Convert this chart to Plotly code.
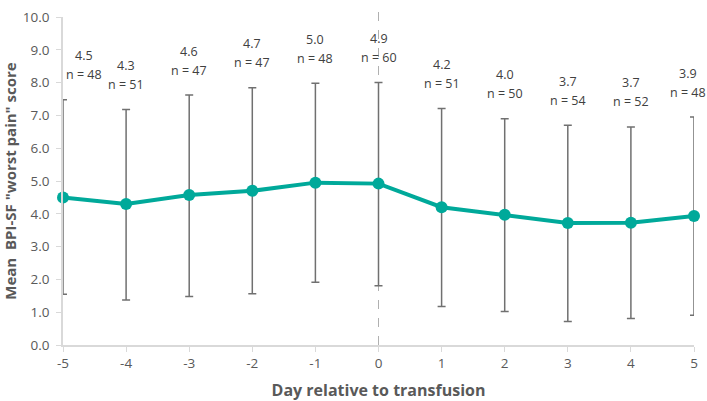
import plotly.graph_objects as go

days = [-5, -4, -3, -2, -1, 0, 1, 2, 3, 4, 5]
day_text = ["-5", "-4", "-3", "-2", "-1", "0", "1", "2", "3", "4", "5"]
mean_score = [4.5, 4.3, 4.57, 4.7, 4.95, 4.92, 4.2, 3.97, 3.72, 3.73, 3.93]
upper_err = [2.98, 2.88, 3.05, 3.14, 3.03, 3.08, 3.01, 2.93, 2.98, 2.92, 3.02]
lower_err = [2.95, 2.93, 3.09, 3.14, 3.04, 3.11, 3.03, 2.95, 3.0, 2.92, 3.02]
mean_label = ["4.5", "4.3", "4.6", "4.7", "5.0", "4.9", "4.2", "4.0", "3.7", "3.7", "3.9"]
n_label = [48, 51, 47, 47, 48, 60, 51, 50, 54, 52, 48]

teal = "#00A99A"
grey_txt = "#595959"
font_fam = "Open Sans, Noto Sans, sans-serif"

fig = go.Figure()
fig.add_trace(go.Scatter(
    x=days, y=mean_score, mode="lines+markers",
    line=dict(color=teal, width=4),
    marker=dict(color=teal, size=12),
    error_y=dict(type="data", symmetric=False, array=upper_err, arrayminus=lower_err,
                 color="#707070", thickness=1.5, width=4),
    cliponaxis=False, showlegend=False,
))

# dashed line at day 0
fig.add_shape(type="line", x0=0, x1=0, xref="x", y0=0, y1=1.025, yref="paper",
              line=dict(color="#b0b0b0", width=1, dash="dash"), layer="below")

# mean and n labels above each error bar (two rows)
lab_font = dict(family=font_fam, size=12.5, color="#404040")
for i, d in enumerate(days):
    xs = 0
    if i == 0:
        xs = 21
    elif i == len(days) - 1:
        xs = -6
    top = mean_score[i] + upper_err[i]
    fig.add_annotation(x=d, y=top, text=mean_label[i], showarrow=False,
                       yanchor="middle", yshift=44, xshift=xs, font=lab_font)
    fig.add_annotation(x=d, y=top, text=f"n = {n_label[i]}", showarrow=False,
                       yanchor="middle", yshift=25, xshift=xs, font=lab_font)

fig.update_layout(
    width=707, height=401,
    margin=dict(l=62, r=13, t=8, b=56),
    plot_bgcolor="white", paper_bgcolor="white",
    font=dict(family=font_fam, color=grey_txt),
)
fig.update_xaxes(
    range=[-5, 5], tickmode="array", tickvals=days, ticktext=day_text,
    showgrid=False, zeroline=False, automargin=False,
    showline=True, linecolor="#d9d9d9", linewidth=1.5,
    ticks="outside", tickcolor="#d9d9d9", ticklen=5,
    tickfont=dict(size=13.5, color=grey_txt),
    title=dict(text="<b>Day relative to transfusion</b>",
               font=dict(size=16, color=grey_txt), standoff=15),
)
fig.update_yaxes(
    range=[0, 10], dtick=1, tickformat=".1f", ticklabeloverflow="allow",
    showgrid=False, zeroline=False,
    showline=True, linecolor="#d9d9d9", linewidth=1.5,
    ticks="outside", tickcolor="#d9d9d9", ticklen=5, ticklabelstandoff=4,
    tickfont=dict(size=13.5, color=grey_txt),
    title=dict(text="<b>Mean  BPI-SF \"worst pain\" score</b>",
               font=dict(size=15, color=grey_txt), standoff=4),
)

fig.write_html("out.html", config={"displayModeBar": False},
               post_script="document.body.style.margin='0';")
